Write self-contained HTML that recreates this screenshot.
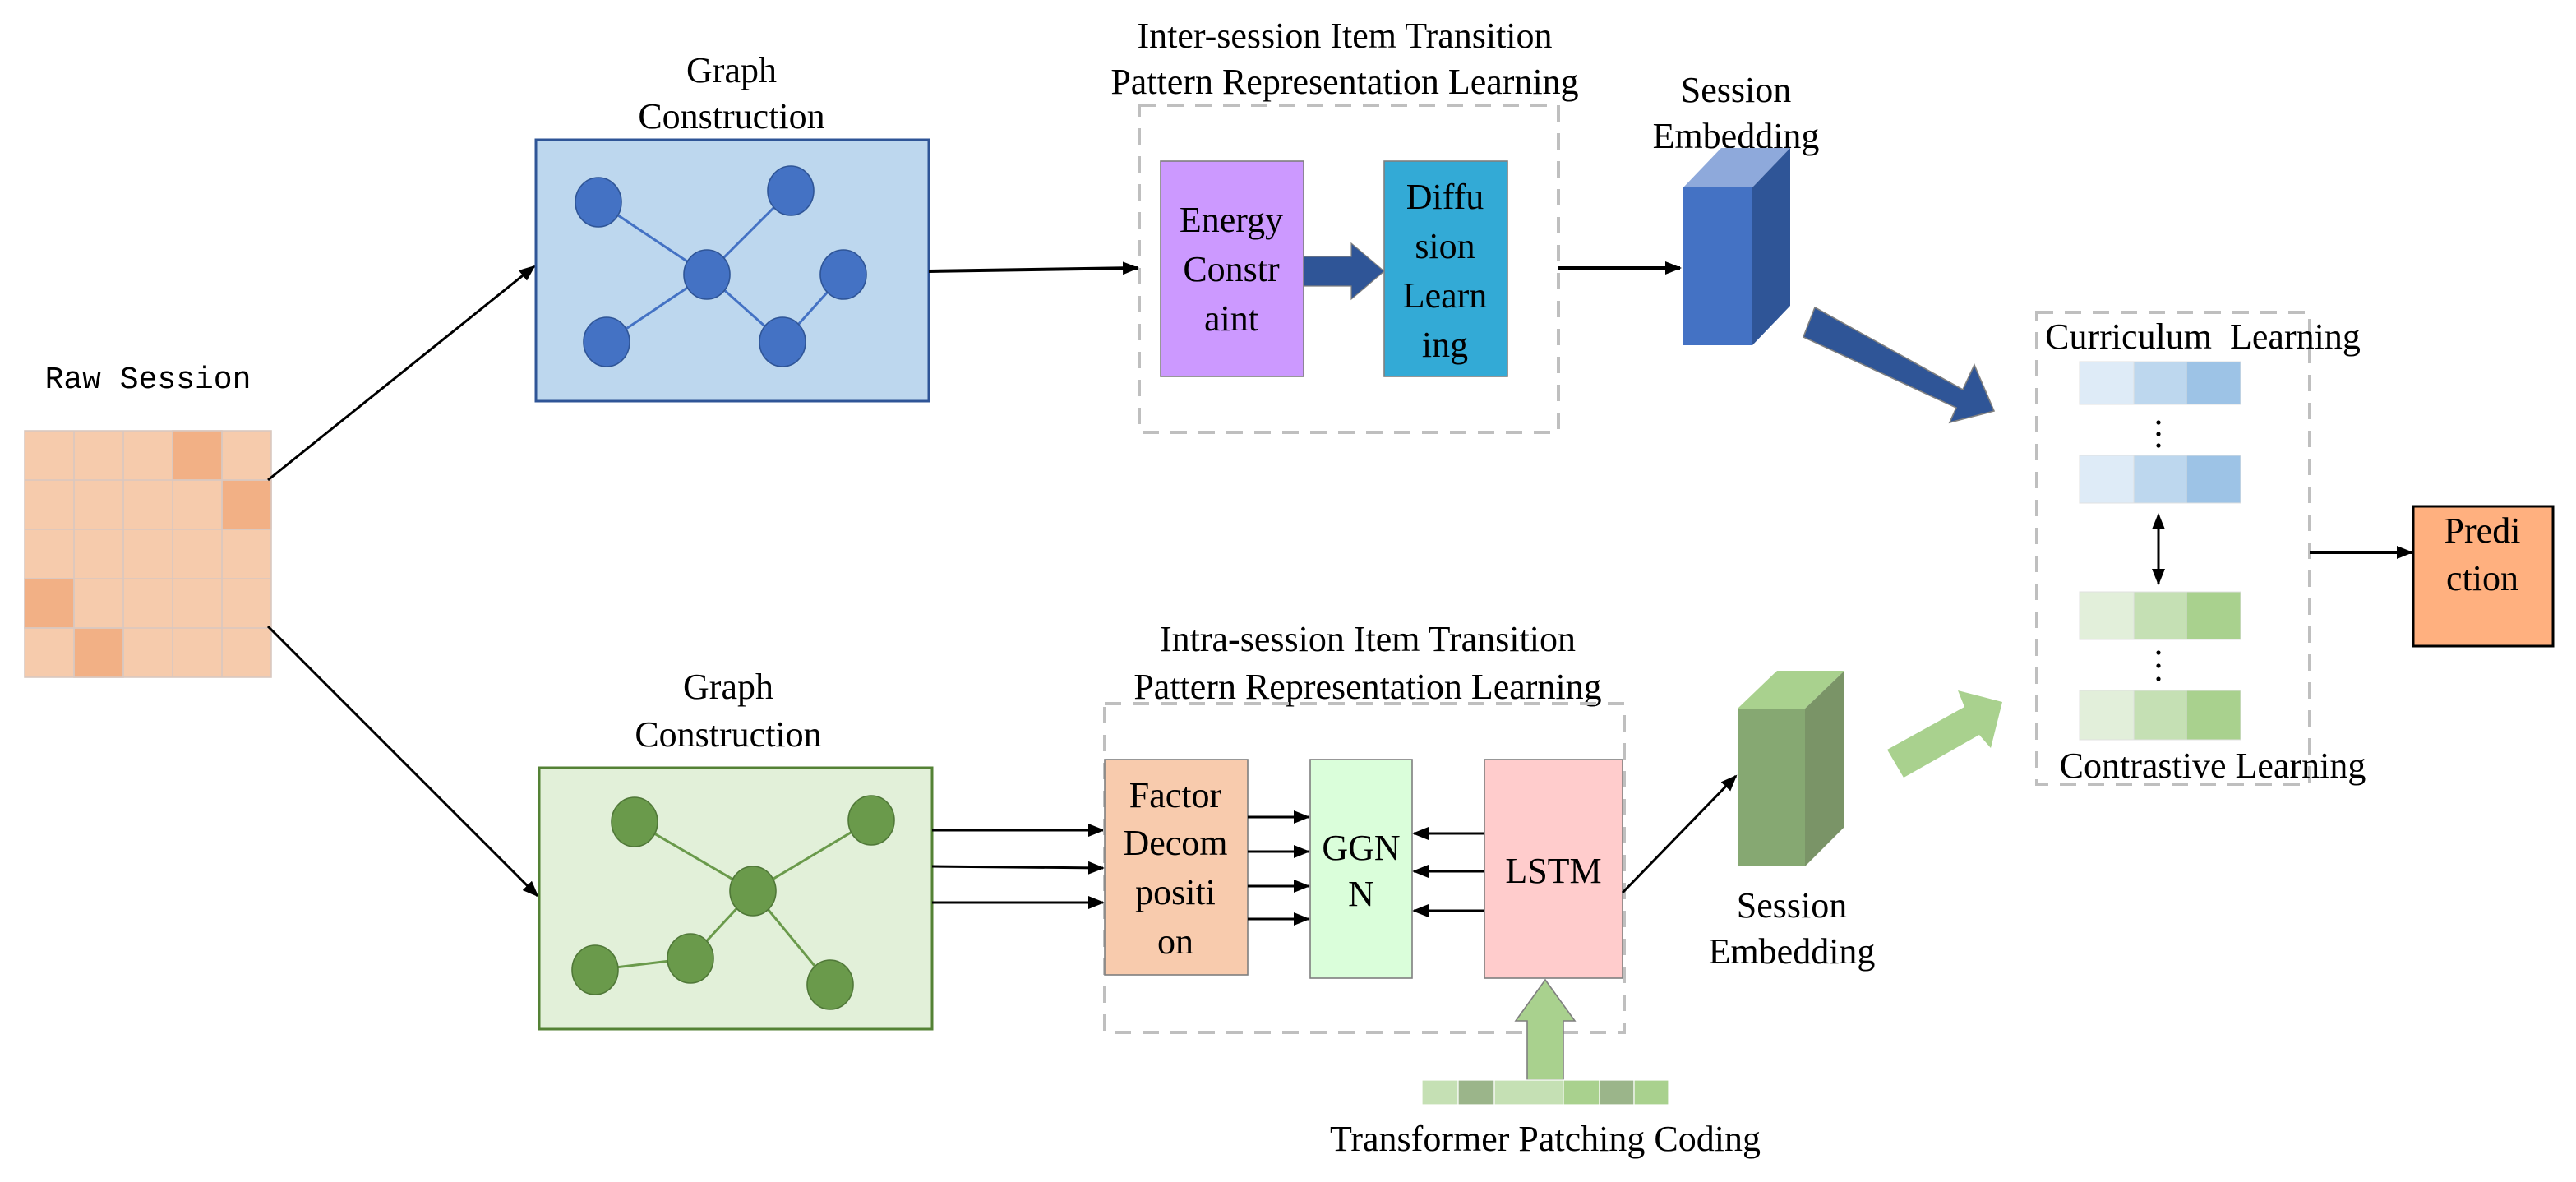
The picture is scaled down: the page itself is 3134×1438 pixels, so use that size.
<!DOCTYPE html>
<html><head><meta charset="utf-8"><style>
html,body{margin:0;padding:0;background:#fff;}
svg{display:block;}
text{font-family:"Liberation Serif",serif;font-size:22px;fill:#000;}
</style></head><body>
<svg width="3134" height="1438" viewBox="0 0 1567 719" xmlns="http://www.w3.org/2000/svg">
<defs>
<marker id="ah" markerWidth="10" markerHeight="8" refX="9" refY="4" orient="auto" markerUnits="userSpaceOnUse"><path d="M0,0 L10,4 L0,8 z" fill="#000"/></marker>
<marker id="as" markerWidth="10" markerHeight="8" refX="1" refY="4" orient="auto" markerUnits="userSpaceOnUse"><path d="M10,0 L0,4 L10,8 z" fill="#000"/></marker>
</defs>

<!-- Raw session -->
<text x="90" y="236" text-anchor="middle" style="font-family:'Liberation Mono',monospace;font-size:19px">Raw Session</text>
<g stroke="#D9C8C0" stroke-width="0.8">
<rect x="15" y="262" width="150" height="150" fill="#F6CBAC"/>
<rect x="105" y="262" width="30" height="30" fill="#F2B085"/>
<rect x="135" y="292" width="30" height="30" fill="#F2B085"/>
<rect x="15" y="352" width="30" height="30" fill="#F2B085"/>
<rect x="45" y="382" width="30" height="30" fill="#F2B085"/>
<path d="M45,262V412M75,262V412M105,262V412M135,262V412M15,292H165M15,322H165M15,352H165M15,382H165" fill="none"/>
</g>
<line x1="163" y1="292" x2="325" y2="162" stroke="#000" stroke-width="1.5" marker-end="url(#ah)"/>
<line x1="163" y1="381" x2="327" y2="545" stroke="#000" stroke-width="1.5" marker-end="url(#ah)"/>

<!-- Top graph -->
<text x="445" y="50" text-anchor="middle">Graph</text>
<text x="445" y="78" text-anchor="middle">Construction</text>
<rect x="326" y="85" width="239" height="159" fill="#BDD7EE" stroke="#2F5597" stroke-width="1.5"/>
<g stroke="#4472C4" stroke-width="1.5"><path d="M364,123L430,167M481,116L430,167M430,167L369,208M430,167L476,208M476,208L513,167"/></g>
<g fill="#4472C4" stroke="#2F5597" stroke-width="0.8">
<ellipse cx="364" cy="123" rx="14" ry="15"/><ellipse cx="481" cy="116" rx="14" ry="15"/><ellipse cx="430" cy="167" rx="14" ry="15"/><ellipse cx="513" cy="167" rx="14" ry="15"/><ellipse cx="369" cy="208" rx="14" ry="15"/><ellipse cx="476" cy="208" rx="14" ry="15"/>
</g>
<line x1="565" y1="165" x2="692" y2="163" stroke="#000" stroke-width="2" marker-end="url(#ah)"/>

<!-- Inter-session -->
<text x="818" y="29" text-anchor="middle">Inter-session Item Transition</text>
<text x="818" y="57" text-anchor="middle">Pattern Representation Learning</text>
<rect x="693" y="64" width="255" height="199" fill="none" stroke="#BFBFBF" stroke-width="2" stroke-dasharray="10,7"/>
<rect x="706" y="98" width="87" height="131" fill="#CC99FF" stroke="#7F7F7F" stroke-width="0.8"/>
<text x="749" y="141" text-anchor="middle">Energy</text>
<text x="749" y="171" text-anchor="middle">Constr</text>
<text x="749" y="201" text-anchor="middle">aint</text>
<path d="M793,156H822V148L842,165L822,182V174H793z" fill="#2F5597" stroke="#7F7F7F" stroke-width="0.6"/>
<rect x="842" y="98" width="75" height="131" fill="#33AAD6" stroke="#7F7F7F" stroke-width="0.8"/>
<text x="879" y="127" text-anchor="middle">Diffu</text>
<text x="879" y="157" text-anchor="middle">sion</text>
<text x="879" y="187" text-anchor="middle">Learn</text>
<text x="879" y="217" text-anchor="middle">ing</text>
<line x1="948" y1="163" x2="1022" y2="163" stroke="#000" stroke-width="2" marker-end="url(#ah)"/>

<!-- blue cube -->
<text x="1056" y="62" text-anchor="middle">Session</text>
<text x="1056" y="90" text-anchor="middle">Embedding</text>
<path d="M1024,114L1047,90H1089L1066,114z" fill="#8EA9DB"/>
<path d="M1066,114L1089,90V186L1066,210z" fill="#2F5597"/>
<rect x="1024" y="114" width="42" height="96" fill="#4472C4"/>
<path d="M1104,187L1194,237L1201,222L1213,250L1186,257L1190,248L1097,205z" fill="#2F5597" stroke="#7F7F7F" stroke-width="0.8"/>

<!-- Curriculum box -->
<rect x="1239" y="190" width="166" height="287" fill="none" stroke="#BFBFBF" stroke-width="2" stroke-dasharray="10,7"/>
<text x="1340" y="212" text-anchor="middle" xml:space="preserve">Curriculum&#160; Learning</text>
<g stroke="#E0E0E0" stroke-width="0.5">
<rect x="1265" y="220" width="33" height="26" fill="#DEEBF7"/><rect x="1298" y="220" width="32" height="26" fill="#BDD7EE"/><rect x="1330" y="220" width="33" height="26" fill="#9DC3E6"/>
<rect x="1265" y="277" width="33" height="29" fill="#DEEBF7"/><rect x="1298" y="277" width="32" height="29" fill="#BDD7EE"/><rect x="1330" y="277" width="33" height="29" fill="#9DC3E6"/>
<rect x="1265" y="360" width="33" height="29" fill="#E2EFDA"/><rect x="1298" y="360" width="32" height="29" fill="#C5E0B4"/><rect x="1330" y="360" width="33" height="29" fill="#A9D18E"/>
<rect x="1265" y="420" width="33" height="30" fill="#E2EFDA"/><rect x="1298" y="420" width="32" height="30" fill="#C5E0B4"/><rect x="1330" y="420" width="33" height="30" fill="#A9D18E"/>
</g>
<g fill="#000"><circle cx="1313" cy="257" r="1.3"/><circle cx="1313" cy="264" r="1.3"/><circle cx="1313" cy="271" r="1.3"/>
<circle cx="1313" cy="397" r="1.3"/><circle cx="1313" cy="405" r="1.3"/><circle cx="1313" cy="413" r="1.3"/></g>
<line x1="1313" y1="313" x2="1313" y2="355" stroke="#000" stroke-width="1.5" marker-start="url(#as)" marker-end="url(#ah)"/>
<text x="1346" y="473" text-anchor="middle">Contrastive Learning</text>
<line x1="1405" y1="336" x2="1467" y2="336" stroke="#000" stroke-width="2" marker-end="url(#ah)"/>
<rect x="1468" y="308" width="85" height="85" fill="#FFB07F" stroke="#000" stroke-width="1.5"/>
<text x="1510" y="330" text-anchor="middle">Predi</text>
<text x="1510" y="359" text-anchor="middle">ction</text>

<!-- Bottom graph -->
<text x="443" y="425" text-anchor="middle">Graph</text>
<text x="443" y="454" text-anchor="middle">Construction</text>
<rect x="328" y="467" width="239" height="159" fill="#E2F0D9" stroke="#548235" stroke-width="1.5"/>
<g stroke="#6A9A4B" stroke-width="1.5"><path d="M386,500L458,542M530,499L458,542M458,542L420,583M420,583L362,590M458,542L505,599"/></g>
<g fill="#6A9A4B" stroke="#507838" stroke-width="0.8">
<ellipse cx="386" cy="500" rx="14" ry="15"/><ellipse cx="530" cy="499" rx="14" ry="15"/><ellipse cx="458" cy="542" rx="14" ry="15"/><ellipse cx="362" cy="590" rx="14" ry="15"/><ellipse cx="420" cy="583" rx="14" ry="15"/><ellipse cx="505" cy="599" rx="14" ry="15"/>
</g>
<g stroke="#000" stroke-width="1.5">
<line x1="567" y1="505" x2="671" y2="505" marker-end="url(#ah)"/>
<line x1="567" y1="527" x2="671" y2="528" marker-end="url(#ah)"/>
<line x1="567" y1="549" x2="671" y2="549" marker-end="url(#ah)"/>
</g>

<!-- Intra-session -->
<text x="832" y="396" text-anchor="middle">Intra-session Item Transition</text>
<text x="832" y="425" text-anchor="middle">Pattern Representation Learning</text>
<rect x="672" y="428" width="316" height="200" fill="none" stroke="#BFBFBF" stroke-width="2" stroke-dasharray="10,7"/>
<rect x="672" y="462" width="87" height="131" fill="#F8CBAD" stroke="#7F7F7F" stroke-width="0.8"/>
<text x="715" y="491" text-anchor="middle">Factor</text>
<text x="715" y="520" text-anchor="middle">Decom</text>
<text x="715" y="550" text-anchor="middle">positi</text>
<text x="715" y="580" text-anchor="middle">on</text>
<g stroke="#000" stroke-width="1.5">
<line x1="759" y1="497" x2="796" y2="497" marker-end="url(#ah)"/>
<line x1="759" y1="518" x2="796" y2="518" marker-end="url(#ah)"/>
<line x1="759" y1="539" x2="796" y2="539" marker-end="url(#ah)"/>
<line x1="759" y1="559" x2="796" y2="559" marker-end="url(#ah)"/>
<line x1="903" y1="507" x2="860" y2="507" marker-end="url(#ah)"/>
<line x1="903" y1="530" x2="860" y2="530" marker-end="url(#ah)"/>
<line x1="903" y1="554" x2="860" y2="554" marker-end="url(#ah)"/>
</g>
<rect x="797" y="462" width="62" height="133" fill="#DAFEDA" stroke="#7F7F7F" stroke-width="0.8"/>
<text x="828" y="523" text-anchor="middle">GGN</text>
<text x="828" y="551" text-anchor="middle">N</text>
<rect x="903" y="462" width="84" height="133" fill="#FFCCCC" stroke="#7F7F7F" stroke-width="0.8"/>
<text x="945" y="537" text-anchor="middle">LSTM</text>
<line x1="987" y1="543" x2="1056" y2="472" stroke="#000" stroke-width="1.5" marker-end="url(#ah)"/>

<!-- green cube -->
<path d="M1057,431L1081,408H1122L1098,431z" fill="#A9D18E"/>
<path d="M1098,431L1122,408V503L1098,527z" fill="#7A9467"/>
<rect x="1057" y="431" width="41" height="96" fill="#86A872"/>
<text x="1090" y="558" text-anchor="middle">Session</text>
<text x="1090" y="586" text-anchor="middle">Embedding</text>
<path d="M1148,456L1195,430L1191,420L1218,427L1211,455L1204,447L1158,473z" fill="#A9D18E"/>

<!-- up arrow & patches -->
<path d="M929,657V621H922L940,596L958,621H951V657z" fill="#A9D18E" stroke="#7F7F7F" stroke-width="0.8"/>
<g stroke="#fff" stroke-width="0.6">
<rect x="865" y="657" width="22" height="15" fill="#C5E0B4"/><rect x="887" y="657" width="22" height="15" fill="#9BB58A"/><rect x="909" y="657" width="42" height="15" fill="#C5E0B4"/><rect x="951" y="657" width="22" height="15" fill="#A9D18E"/><rect x="973" y="657" width="21" height="15" fill="#9BB58A"/><rect x="994" y="657" width="21" height="15" fill="#A9D18E"/>
</g>
<text x="940" y="700" text-anchor="middle">Transformer Patching Coding</text>
</svg>
</body></html>
